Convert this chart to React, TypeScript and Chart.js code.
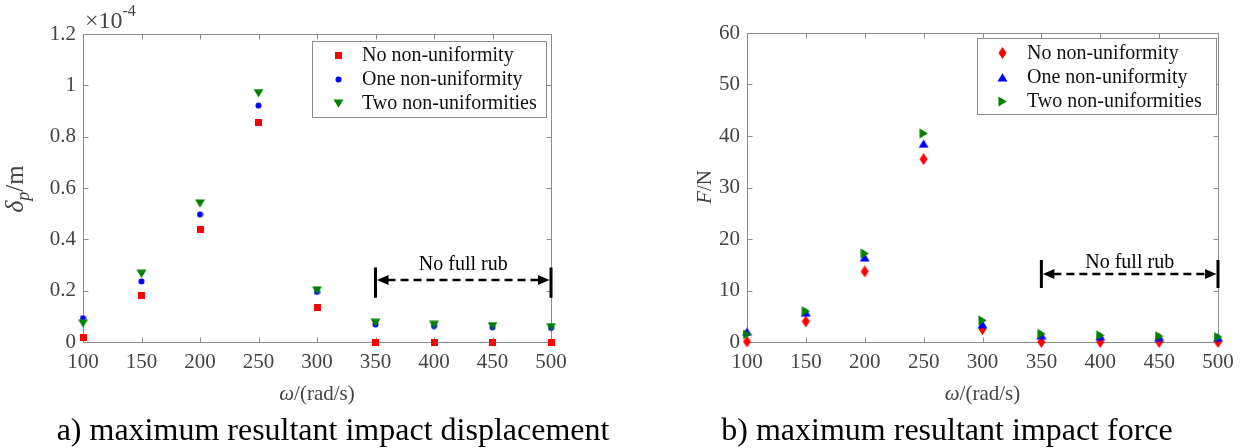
import React, { useEffect, useRef } from 'react';
import { Chart, registerables } from 'chart.js';

Chart.register(...registerables);

// ---------------- data ----------------
const omega = [100, 150, 200, 250, 300, 350, 400, 450, 500];
const seriesNames = ['No non-uniformity', 'One non-uniformity', 'Two non-uniformities'];

// maximum resultant impact displacement, in units of 1e-4 m
const dispNone = [0.016, 0.18, 0.437, 0.856, 0.134, 0, 0, 0, 0];
const dispOne = [0.093, 0.236, 0.497, 0.921, 0.195, 0.068, 0.062, 0.057, 0.055];
const dispTwo = [0.073, 0.266, 0.54, 0.97, 0.201, 0.075, 0.067, 0.062, 0.058];

// maximum resultant impact force, N
const forceNone = [0.1, 4.0, 13.7, 35.5, 2.5, 0, 0, 0, 0];
const forceOne = [2.0, 5.7, 16.4, 38.5, 3.4, 1.3, 1.1, 0.95, 0.85];
const forceTwo = [1.5, 6.0, 17.2, 40.5, 4.2, 1.6, 1.3, 1.15, 1.0];

const xTickValues = [100, 150, 200, 250, 300, 350, 400, 450, 500];
const dispTickValues = [0, 0.2, 0.4, 0.6, 0.8, 1.0, 1.2];
const forceTickValues = [0, 10, 20, 30, 40, 50, 60];

const noRubText = 'No full rub';
const noRubRange = [350, 500];
const dispNoRub = { arrow: 0.242, barLow: 0.172, barHigh: 0.29, text: 0.3 };
const forceNoRub = { arrow: 13.2, barLow: 10.5, barHigh: 15.9, text: 15.3 };

const captionA = 'a) maximum resultant impact displacement';
const captionB = 'b) maximum resultant impact force';

// ---------------- styling ----------------
const SERIF = '"Liberation Serif", "Times New Roman", serif';
const AXIS_COLOR = '#8c8c8c';
const TICK_TEXT = '#444444';
const RED = '#ff0000';
const BLUE = '#0000ff';
const GREEN = '#008000';

function makeMarker(w: number, h: number, color: string, draw: (ctx: CanvasRenderingContext2D) => void) {
  const c = document.createElement('canvas');
  c.width = w;
  c.height = h;
  const ctx = c.getContext('2d') as CanvasRenderingContext2D;
  ctx.fillStyle = color;
  draw(ctx);
  return c;
}
function poly(ctx: CanvasRenderingContext2D, pts: number[][]) {
  ctx.beginPath();
  ctx.moveTo(pts[0][0], pts[0][1]);
  for (let i = 1; i < pts.length; i++) ctx.lineTo(pts[i][0], pts[i][1]);
  ctx.closePath();
  ctx.fill();
}

type Part = { text: string; font: string; dy?: number };
function drawRich(ctx: CanvasRenderingContext2D, parts: Part[], cx: number, cy: number, angle: number) {
  ctx.save();
  ctx.translate(cx, cy);
  ctx.rotate(angle);
  ctx.textBaseline = 'alphabetic';
  ctx.textAlign = 'left';
  let total = 0;
  const widths = parts.map((p) => {
    ctx.font = p.font;
    const w = ctx.measureText(p.text).width;
    total += w;
    return w;
  });
  let x = -total / 2;
  parts.forEach((p, i) => {
    ctx.font = p.font;
    ctx.fillText(p.text, x, p.dy || 0);
    x += widths[i];
  });
  ctx.restore();
}

type Cfg = {
  left: number;
  right: number;
  top: number;
  bottom: number;
  yMax: number;
  yTicks: number[];
  series: number[][];
  markers: HTMLCanvasElement[];
  colors: string[];
  noRub: { arrow: number; barLow: number; barHigh: number; text: number };
  legend: { x0: number; x1: number; y0: number; y1: number; mx: number; tx: number; rows: number[] };
  yLabel: Part[];
  yLabelPos: [number, number];
  exponent: boolean;
};

function buildChart(canvas: HTMLCanvasElement, cfg: Cfg) {
  const tickFont = { family: SERIF, size: 21 };
  const framePlugin = {
    id: 'frame',
    beforeDatasetsDraw(chart: any) {
      const { ctx, chartArea } = chart;
      const { left, right, top, bottom } = chartArea;
      const xs = chart.scales.x;
      const ys = chart.scales.y;
      ctx.save();
      ctx.strokeStyle = AXIS_COLOR;
      ctx.lineWidth = 1;
      const L = Math.round(left) + 0.5;
      const R = Math.round(right) + 0.5;
      const T = Math.round(top) + 0.5;
      const B = Math.round(bottom) + 0.5;
      ctx.strokeRect(L, T, R - L, B - T);
      ctx.beginPath();
      xTickValues.forEach((v) => {
        const px = Math.round(xs.getPixelForValue(v)) + 0.5;
        ctx.moveTo(px, B);
        ctx.lineTo(px, B - 5);
        ctx.moveTo(px, T);
        ctx.lineTo(px, T + 5);
      });
      cfg.yTicks.forEach((v) => {
        const py = Math.round(ys.getPixelForValue(v)) + 0.5;
        ctx.moveTo(L, py);
        ctx.lineTo(L + 5, py);
        ctx.moveTo(R, py);
        ctx.lineTo(R - 5, py);
      });
      ctx.stroke();
      ctx.restore();
    },
    afterDatasetsDraw(chart: any) {
      const { ctx, chartArea } = chart;
      const xs = chart.scales.x;
      const ys = chart.scales.y;
      ctx.save();
      // legend
      const lg = cfg.legend;
      ctx.fillStyle = '#ffffff';
      ctx.fillRect(lg.x0, lg.y0, lg.x1 - lg.x0, lg.y1 - lg.y0);
      ctx.strokeStyle = AXIS_COLOR;
      ctx.lineWidth = 1;
      ctx.strokeRect(lg.x0 + 0.5, lg.y0 + 0.5, lg.x1 - lg.x0, lg.y1 - lg.y0);
      ctx.font = `20px ${SERIF}`;
      ctx.fillStyle = '#111111';
      ctx.textBaseline = 'middle';
      ctx.textAlign = 'left';
      chart.data.datasets.forEach((ds: any, i: number) => {
        const m = cfg.markers[i];
        ctx.drawImage(m, Math.round(lg.mx - m.width / 2), Math.round(lg.rows[i] - m.height / 2));
        ctx.fillText(ds.label, lg.tx, lg.rows[i] + 1);
      });

      // no full rub annotation
      const x0 = xs.getPixelForValue(noRubRange[0]);
      const x1 = xs.getPixelForValue(noRubRange[1]);
      const ya = ys.getPixelForValue(cfg.noRub.arrow);
      const yl = ys.getPixelForValue(cfg.noRub.barLow);
      const yh = ys.getPixelForValue(cfg.noRub.barHigh);
      ctx.strokeStyle = '#000000';
      ctx.fillStyle = '#000000';
      ctx.lineWidth = 3;
      ctx.beginPath();
      ctx.moveTo(x0, yl);
      ctx.lineTo(x0, yh);
      ctx.moveTo(x1, yl);
      ctx.lineTo(x1, yh);
      ctx.stroke();
      ctx.lineWidth = 2.5;
      ctx.setLineDash([8, 5]);
      ctx.beginPath();
      ctx.moveTo(x0 + 12, ya);
      ctx.lineTo(x1 - 12, ya);
      ctx.stroke();
      ctx.setLineDash([]);
      poly(ctx, [[x0 + 1.5, ya], [x0 + 13, ya - 5], [x0 + 13, ya + 5]]);
      poly(ctx, [[x1 - 1.5, ya], [x1 - 13, ya - 5], [x1 - 13, ya + 5]]);
      ctx.font = `20px ${SERIF}`;
      ctx.textAlign = 'center';
      ctx.textBaseline = 'middle';
      ctx.fillText(noRubText, (x0 + x1) / 2, ys.getPixelForValue(cfg.noRub.text));

      // axis titles
      ctx.fillStyle = TICK_TEXT;
      drawRich(
        ctx,
        [
          { text: 'ω', font: `italic 21px ${SERIF}` },
          { text: '/(rad/s)', font: `21px ${SERIF}` },
        ],
        (chartArea.left + chartArea.right) / 2,
        400,
        0
      );
      drawRich(ctx, cfg.yLabel, cfg.yLabelPos[0], cfg.yLabelPos[1], -Math.PI / 2);
      if (cfg.exponent) {
        ctx.textAlign = 'left';
        ctx.textBaseline = 'alphabetic';
        ctx.font = `24px ${SERIF}`;
        ctx.fillText('×10', chartArea.left + 2, 28);
        const w = ctx.measureText('×10').width;
        ctx.font = `16px ${SERIF}`;
        ctx.fillText('-4', chartArea.left + 2 + w, 16);
      }
      ctx.restore();
    },
  };

  return new Chart(canvas, {
    type: 'scatter',
    data: {
      datasets: cfg.series.map((vals, i) => ({
        label: seriesNames[i],
        data: omega.map((x, j) => ({ x, y: vals[j] })),
        pointStyle: cfg.markers[i] as any,
        backgroundColor: cfg.colors[i],
        borderColor: cfg.colors[i],
        showLine: false,
        clip: false as any,
        order: 2 - i,
      })),
    },
    options: {
      responsive: false,
      animation: false,
      events: [],
      layout: {
        padding: { left: 0, right: 620 - cfg.right, top: cfg.top, bottom: 448 - cfg.bottom - 30 },
      },
      plugins: {
        legend: { display: false },
        tooltip: { enabled: false },
        title: { display: false },
      },
      scales: {
        x: {
          type: 'linear',
          min: 100,
          max: 500,
          grid: { display: false, drawTicks: false },
          border: { display: false },
          ticks: {
            font: tickFont,
            color: TICK_TEXT,
            padding: 8,
            maxRotation: 0,
            autoSkip: false,
            callback: (v: any) => String(v),
          },
          afterBuildTicks: (s: any) => {
            s.ticks = xTickValues.map((value) => ({ value }));
          },
          afterFit: (s: any) => {
            s.height = 30;
            s.paddingLeft = 0;
            s.paddingRight = 0;
          },
        },
        y: {
          type: 'linear',
          min: 0,
          max: cfg.yMax,
          grid: { display: false, drawTicks: false },
          border: { display: false },
          ticks: {
            font: tickFont,
            color: TICK_TEXT,
            padding: 7,
            autoSkip: false,
            callback: (v: any) => String(Math.round(Number(v) * 10) / 10),
          },
          afterBuildTicks: (s: any) => {
            s.ticks = cfg.yTicks.map((value) => ({ value }));
          },
          afterFit: (s: any) => {
            s.width = cfg.left;
            s.paddingTop = 0;
            s.paddingBottom = 0;
          },
        },
      },
    },
    plugins: [framePlugin],
  } as any);
}

export default function App() {
  const leftRef = useRef<HTMLCanvasElement>(null);
  const rightRef = useRef<HTMLCanvasElement>(null);

  useEffect(() => {
    const square = makeMarker(7, 7, RED, (c) => c.fillRect(0, 0, 7, 7));
    const circle = makeMarker(7, 7, BLUE, (c) => {
      c.beginPath();
      c.arc(3.5, 3.5, 3, 0, Math.PI * 2);
      c.fill();
    });
    const downTri = makeMarker(11, 9, GREEN, (c) => poly(c, [[0.5, 0.5], [10.5, 0.5], [5.5, 8.8]]));
    const diamond = makeMarker(9, 12, RED, (c) => poly(c, [[4.5, 0], [8.5, 6], [4.5, 12], [0.5, 6]]));
    const upTri = makeMarker(11, 9, BLUE, (c) => poly(c, [[5.5, 0.3], [10.5, 8.5], [0.5, 8.5]]));
    const rightTri = makeMarker(9, 11, GREEN, (c) => poly(c, [[0.5, 0.5], [8.8, 5.5], [0.5, 10.5]]));

    const left = buildChart(leftRef.current as HTMLCanvasElement, {
      left: 83,
      right: 551,
      top: 34,
      bottom: 342,
      yMax: 1.2,
      yTicks: dispTickValues,
      series: [dispNone, dispOne, dispTwo],
      markers: [square, circle, downTri],
      colors: [RED, BLUE, GREEN],
      noRub: dispNoRub,
      legend: { x0: 312, x1: 546, y0: 41, y1: 117, mx: 338, tx: 362, rows: [55, 79, 103] },
      yLabel: [
        { text: 'δ', font: `italic 26px ${SERIF}` },
        { text: 'p', font: `italic 18px ${SERIF}`, dy: 6 },
        { text: '/m', font: `25px ${SERIF}` },
      ],
      yLabelPos: [23, 189],
      exponent: true,
    });
    const right = buildChart(rightRef.current as HTMLCanvasElement, {
      left: 127,
      right: 598,
      top: 33,
      bottom: 342,
      yMax: 60,
      yTicks: forceTickValues,
      series: [forceNone, forceOne, forceTwo],
      markers: [diamond, upTri, rightTri],
      colors: [RED, BLUE, GREEN],
      noRub: forceNoRub,
      legend: { x0: 357, x1: 596, y0: 38, y1: 114, mx: 382, tx: 407, rows: [53, 77, 101] },
      yLabel: [
        { text: 'F', font: `italic 21px ${SERIF}` },
        { text: '/N', font: `21px ${SERIF}` },
      ],
      yLabelPos: [91, 187],
      exponent: false,
    });
    return () => {
      left.destroy();
      right.destroy();
    };
  }, []);

  const captionStyle: React.CSSProperties = {
    position: 'absolute',
    top: 413,
    transform: 'translateX(-50%)',
    whiteSpace: 'nowrap',
    font: `32px ${SERIF}`,
    lineHeight: '32px',
    color: '#000',
  };

  return (
    <div style={{ position: 'absolute', left: 0, top: 0, width: 1240, height: 448, background: '#fff', overflow: 'hidden' }}>
      <canvas ref={leftRef} width={620} height={448} style={{ position: 'absolute', left: 0, top: 0, width: 620, height: 448 }} />
      <canvas ref={rightRef} width={620} height={448} style={{ position: 'absolute', left: 620, top: 0, width: 620, height: 448 }} />
      <div style={{ ...captionStyle, left: 333 }}>{captionA}</div>
      <div style={{ ...captionStyle, left: 947 }}>{captionB}</div>
    </div>
  );
}
